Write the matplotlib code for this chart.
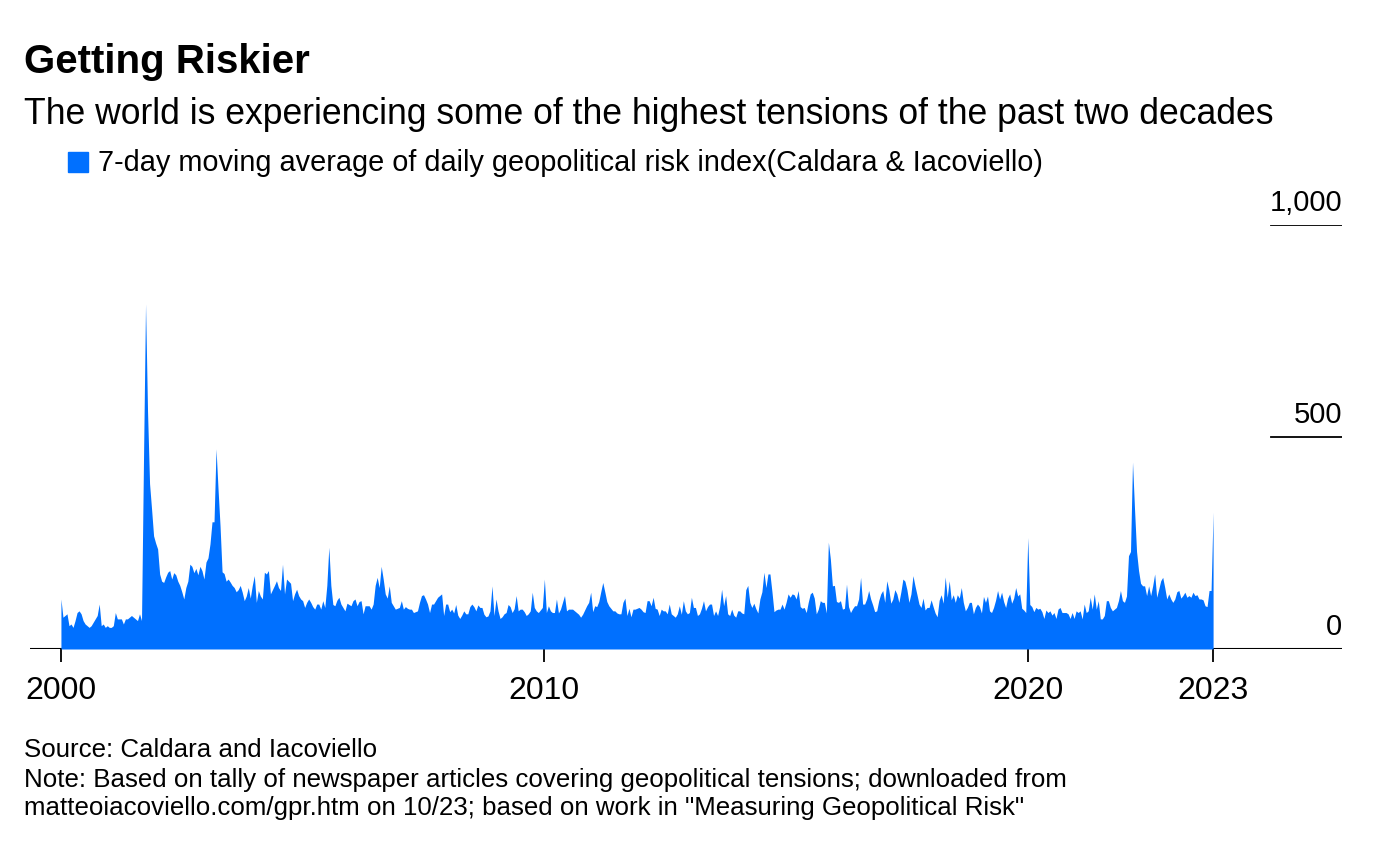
import numpy as np
import matplotlib
matplotlib.use("Agg")
import matplotlib.pyplot as plt
import matplotlib.transforms as mtransforms

plt.rcParams['font.family'] = ['Liberation Sans', 'DejaVu Sans']

# semi-monthly readings of the 7-day moving average (GPR index)
y2000 = [118, 75, 79, 83, 55, 59, 51, 67, 86, 90, 83, 67, 59, 55, 51, 55, 63, 71, 79, 106, 55, 59, 51, 55]
y2001 = [51, 51, 55, 86, 71, 71, 71, 59, 71, 71, 75, 79, 75, 71, 67, 83, 67, 450, 814, 560, 390, 330, 267, 250]
y2002 = [236, 177, 160, 157, 170, 181, 185, 165, 180, 175, 160, 150, 135, 118, 145, 160, 200, 195, 180, 190, 175, 195, 185, 165]
y2003 = [205, 215, 248, 300, 300, 472, 377, 290, 182, 178, 160, 165, 158, 150, 145, 135, 140, 150, 134, 114, 125, 145, 120, 150]
y2004 = [173, 110, 138, 125, 118, 181, 177, 185, 130, 140, 150, 161, 145, 138, 200, 130, 165, 160, 155, 114, 130, 141, 126, 118]
y2005 = [114, 98, 110, 118, 110, 100, 94, 106, 106, 94, 114, 98, 150, 240, 150, 105, 102, 115, 122, 106, 98, 90, 108, 105]
y2006 = [102, 114, 118, 102, 112, 114, 83, 102, 102, 102, 94, 106, 150, 169, 145, 195, 165, 130, 120, 149, 110, 102, 94, 96]
y2007 = [98, 114, 94, 100, 96, 94, 94, 86, 88, 90, 110, 126, 128, 118, 106, 86, 106, 106, 114, 122, 126, 130, 79, 106]
y2008 = [106, 88, 94, 85, 105, 80, 72, 80, 90, 83, 83, 100, 106, 100, 90, 104, 98, 98, 82, 76, 78, 90, 149, 79]
y2009 = [118, 90, 72, 76, 83, 86, 105, 100, 86, 95, 126, 90, 94, 94, 88, 79, 83, 90, 134, 98, 90, 86, 92, 98]
y2010 = [165, 86, 102, 90, 86, 86, 118, 85, 94, 110, 126, 90, 94, 94, 94, 90, 86, 82, 75, 82, 92, 102, 110, 134]
y2011 = [88, 102, 100, 112, 135, 157, 135, 112, 102, 96, 90, 90, 85, 83, 83, 110, 120, 79, 96, 76, 94, 94, 96, 98]
y2012 = [94, 88, 86, 114, 114, 102, 122, 96, 94, 79, 94, 90, 90, 83, 106, 83, 79, 75, 83, 102, 82, 114, 90, 83]
y2013 = [86, 122, 98, 98, 79, 83, 96, 114, 90, 100, 106, 106, 79, 90, 79, 100, 141, 102, 126, 83, 79, 94, 80, 75]
y2014 = [90, 90, 85, 83, 140, 150, 110, 98, 108, 95, 85, 118, 135, 181, 145, 177, 177, 135, 88, 92, 94, 94, 106, 94]
y2015 = [110, 130, 122, 130, 128, 118, 138, 100, 96, 98, 86, 110, 130, 134, 120, 83, 94, 114, 110, 110, 85, 252, 212, 149]
y2016 = [150, 112, 110, 114, 94, 96, 153, 100, 86, 95, 102, 102, 118, 169, 106, 106, 118, 138, 118, 104, 88, 90, 114, 130]
y2017 = [138, 110, 161, 140, 108, 118, 140, 130, 110, 135, 165, 160, 140, 110, 130, 173, 149, 128, 106, 98, 120, 92, 98, 98]
y2018 = [116, 100, 85, 76, 115, 128, 108, 170, 122, 161, 116, 128, 110, 128, 120, 145, 110, 90, 98, 110, 110, 83, 98, 106]
y2019 = [100, 85, 124, 110, 125, 90, 86, 98, 115, 138, 118, 134, 112, 98, 120, 130, 108, 120, 145, 125, 130, 96, 92, 86]
y2020 = [263, 105, 100, 88, 98, 94, 96, 88, 72, 92, 86, 90, 80, 86, 72, 94, 98, 86, 86, 86, 83, 72, 86, 72]
y2021 = [90, 86, 90, 71, 106, 86, 90, 122, 94, 130, 94, 114, 71, 71, 79, 114, 114, 98, 90, 94, 98, 114, 138, 114]
y2022 = [110, 125, 220, 230, 441, 330, 230, 185, 155, 149, 149, 126, 149, 126, 149, 177, 122, 141, 161, 169, 145, 118, 130, 118]
y2023 = [110, 118, 135, 138, 120, 126, 134, 122, 126, 122, 134, 126, 128, 118, 118, 116, 102, 100, 138, 138, 323]

tick_years = [2000, 2010, 2020]
ytick_values = [0, 500, 1000]
ytick_labels = ['0', '500', '1,000']

BLUE = '#0070ff'

gpr = np.array(y2000 + y2001 + y2002 + y2003 + y2004 + y2005 + y2006 + y2007
               + y2008 + y2009 + y2010 + y2011 + y2012 + y2013 + y2014 + y2015
               + y2016 + y2017 + y2018 + y2019 + y2020 + y2021 + y2022 + y2023)
dates = 2000 + np.arange(len(gpr)) / 24.0

fig = plt.figure(figsize=(13.74, 8.62), dpi=100)
W, H = 1374, 862
ax = fig.add_axes([30 / W, 1 - 650 / H, (1342 - 30) / W, (650 - 226) / H])

ax.fill_between(dates, 0, gpr, color=BLUE, lw=0, zorder=2)
ax.axhline(0, color='black', lw=1.5, zorder=1)
for v in ytick_values[1:]:
    ax.axhline(v, xmin=(1271 - 30) / 1312, xmax=1, color='black', lw=1.3)

trans = mtransforms.blended_transform_factory(ax.transAxes, ax.transData)
for v, lab in zip(ytick_values, ytick_labels):
    ax.annotate(lab, xy=(1, v), xycoords=trans, xytext=(0, 15),
                textcoords='offset pixels', ha='right', va='baseline',
                fontsize=21, color='black')

ax.set_xlim(1999.36, 2026.5)
ax.set_ylim(0, 1000)
ax.set_xticks(tick_years + [dates[-1]])
ax.set_xticklabels([str(y) for y in tick_years] + ['2023'])
ax.set_yticks([])
ax.tick_params(axis='x', direction='out', length=9, width=1.3, pad=10, labelsize=23)
for s in ax.spines.values():
    s.set_visible(False)

fig.text(24 / W, 1 - 62 / H, 'Getting Riskier', fontsize=29, fontweight='bold', va='center')
fig.text(24 / W, 1 - 114 / H,
         'The world is experiencing some of the highest tensions of the past two decades',
         fontsize=25.6, va='center')
fig.patches.append(plt.Rectangle((68 / W, 1 - 173 / H), 20 / W, 20 / H,
                                 transform=fig.transFigure, color=BLUE))
fig.text(98 / W, 1 - 163 / H,
         '7-day moving average of daily geopolitical risk index(Caldara & Iacoviello)',
         fontsize=20.8, va='center')
fig.text(24 / W, 1 - 750 / H, 'Source: Caldara and Iacoviello', fontsize=18.6, va='center')
fig.text(24 / W, 1 - 780 / H,
         'Note: Based on tally of newspaper articles covering geopolitical tensions; downloaded from',
         fontsize=18.6, va='center')
fig.text(24 / W, 1 - 808 / H,
         'matteoiacoviello.com/gpr.htm on 10/23; based on work in "Measuring Geopolitical Risk"',
         fontsize=18.6, va='center')

fig.savefig('out.png', dpi=100)
